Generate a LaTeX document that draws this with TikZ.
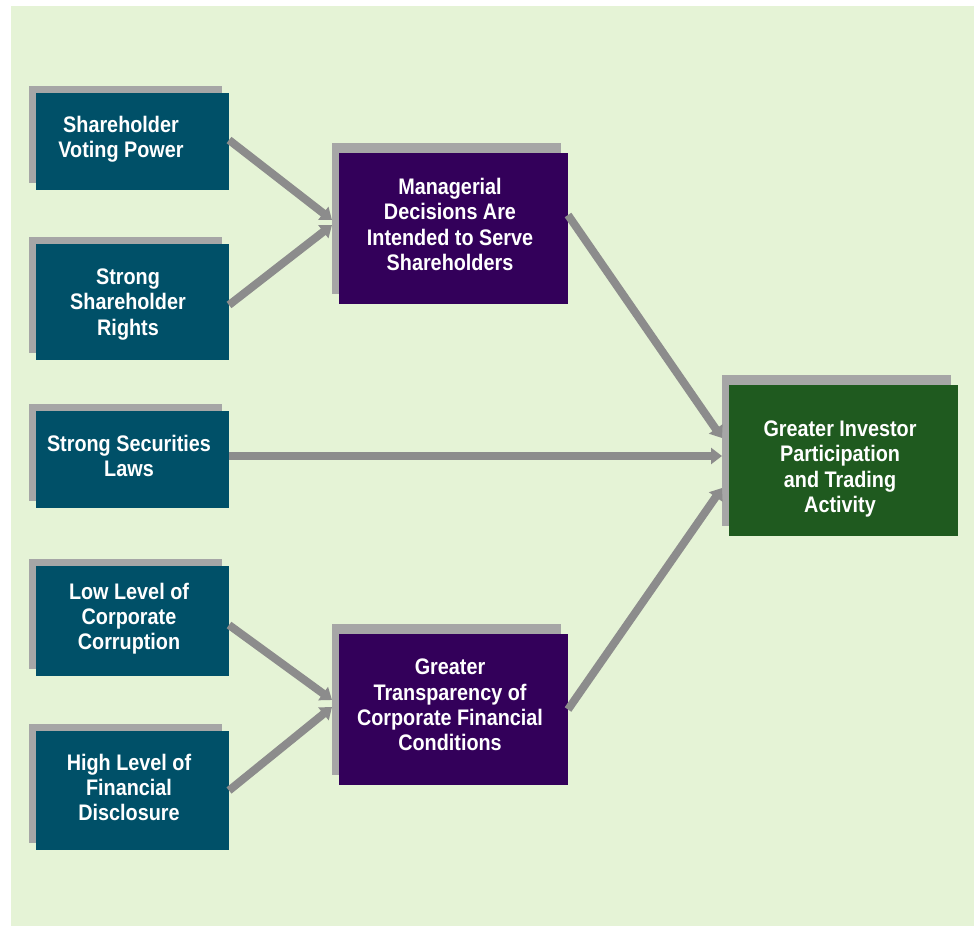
\documentclass[tikz,border=0pt]{standalone}
\usepackage{fontspec}
\setmainfont{Liberation Sans}[FakeStretch=0.88]
\usetikzlibrary{arrows.meta,shadows,calc}
\definecolor{bgc}{HTML}{E5F3D6}
\definecolor{tealc}{HTML}{005068}
\definecolor{purplec}{HTML}{33005A}
\definecolor{greenc}{HTML}{1F5A1F}
\definecolor{shadowc}{HTML}{A6A6A6}
\definecolor{arrowc}{HTML}{8C8C8C}
\begin{document}
\begin{tikzpicture}[x=1pt,y=-1pt,
  boxbase/.style={draw=none, inner sep=0pt, outer sep=0pt},
  tealbox/.style={boxbase, fill=tealc, minimum width=193pt,
    copy shadow={shadow xshift=-7pt, shadow yshift=7pt, fill=shadowc, draw=none}},
  purplebox/.style={boxbase, fill=purplec, minimum width=229pt, minimum height=151pt,
    copy shadow={shadow xshift=-7pt, shadow yshift=10pt, fill=shadowc, draw=none}},
  greenbox/.style={boxbase, fill=greenc, minimum width=229pt, minimum height=151pt,
    copy shadow={shadow xshift=-7pt, shadow yshift=10pt, fill=shadowc, draw=none}},
  txt/.style={text=white, align=center, inner sep=0pt,
    font=\fontsize{22.5}{25.3}\selectfont\bfseries},
  conn/.style={draw=arrowc, line width=8pt,
    -{Triangle[length=11pt,width=16pt]}}
]
\useasboundingbox (0,0) rectangle (974,926);
\fill[bgc] (11,6) rectangle (974,926);

% boxes
\node[tealbox, minimum height=97pt]  (b1) at (132.5,141.5) {};
\node[tealbox, minimum height=116pt] (b2) at (132.5,302) {};
\node[tealbox, minimum height=97pt]  (b3) at (132.5,459.5) {};
\node[tealbox, minimum height=110pt] (b4) at (132.5,621) {};
\node[tealbox, minimum height=119pt] (b5) at (132.5,790.5) {};
\node[purplebox] (p1) at (453.5,228.5) {};
\node[purplebox] (p2) at (453.5,709.5) {};
\node[greenbox]  (g)  at (843.5,460.5) {};

% texts
\node[txt] (t1) at (121,139.5) {Shareholder\\Voting Power};
\node[txt] (t2) at (128,304.5) {Strong\\Shareholder\\Rights};
\node[txt] (t3) at (129,456) {Strong Securities\\Laws};
\node[txt] (t4) at (129,618.5) {Low Level of\\Corporate\\Corruption};
\node[txt] (t5) at (129,787.5) {High Level of\\Financial\\Disclosure};
\node[txt] (tp1) at (450,224.5) {Managerial\\Decisions Are\\Intended to Serve\\Shareholders};
\node[txt] (tp2) at (450,705) {Greater\\Transparency of\\Corporate Financial\\Conditions};
\node[txt] (tg) at (840,469) {Greater Investor\\Participation\\and Trading\\Activity};

% connectors
\draw[conn] ($(b1.east)+(0,-1.5)$) -- ($(p1.west)+(-7,-8.5)$);
\draw[conn] ($(b2.east)+(0,3)$) -- ($(p1.west)+(-7,-3.5)$);
\draw[conn] ($(b3.east)+(0,-3.5)$) -- ($(g.west)+(-7,-4.5)$);
\draw[conn] ($(b4.east)+(0,4)$) -- ($(p2.west)+(-7,-9.5)$);
\draw[conn] (b5.east) -- ($(p2.west)+(-7,-2.5)$);
\draw[conn] ($(p1.east)+(0,-13.5)$) -- ($(g.west)+(-7,-22.5)$);
\draw[conn] (p2.east) -- ($(g.west)+(-7,27.5)$);
\end{tikzpicture}
\end{document}
